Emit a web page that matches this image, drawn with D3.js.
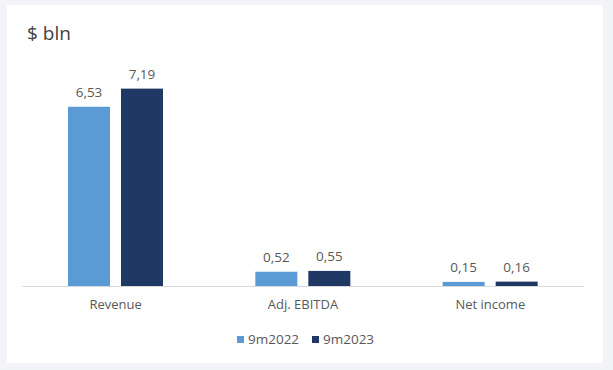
<!DOCTYPE html>
<html>
<head>
<meta charset="utf-8">
<script src="https://cdn.jsdelivr.net/npm/d3@7"></script>
<style>
  html, body { margin: 0; padding: 0; background: #f3f4f7; }
  svg { display: block; font-family: "Open Sans", sans-serif; }
</style>
</head>
<body>
<div class="chart"></div>
<script>
// Data
var categories = ["Revenue", "Adj. EBITDA", "Net income"];
var seriesNames = ["9m2022", "9m2023"];
var values2022 = [6.53, 0.52, 0.15];
var values2023 = [7.19, 0.55, 0.16];
var colors = ["#5b9bd5", "#1f3864"];

var svgWidth = 613;
var svgHeight = 370;

var svg = d3.select(".chart")
            .append("svg")
            .attr("width", svgWidth)
            .attr("height", svgHeight);

// white card
svg.append("rect")
   .attr("x", 7)
   .attr("y", 5)
   .attr("width", 596)
   .attr("height", 358)
   .attr("fill", "#ffffff");

// title
svg.append("text")
   .attr("x", 27)
   .attr("y", 40)
   .attr("fill", "#404040")
   .style("font-size", "19px")
   .text("$ bln");

var baseY = 286;

var x0 = d3.scaleBand()
           .domain(categories)
           .range([22, 584]);

var x1 = d3.scaleBand()
           .domain(seriesNames)
           .range([46, 141])
           .paddingInner(0.2075);

var y = d3.scaleLinear()
          .domain([0, 8])
          .range([baseY, baseY - 8 * 27.45]);

// build rows from the arrays
var rows = categories.map(function(c, i) {
    return {
        category: c,
        values: [
            { series: seriesNames[0], value: values2022[i] },
            { series: seriesNames[1], value: values2023[i] }
        ]
    };
});

var groups = svg.selectAll(".group")
                .data(rows)
                .enter()
                .append("g")
                .attr("class", "group")
                .attr("transform", d => `translate(${x0(d.category)}, 0)`);

groups.selectAll("rect")
      .data(d => d.values)
      .enter()
      .append("rect")
      .attr("x", d => x1(d.series))
      .attr("y", d => y(d.value))
      .attr("width", x1.bandwidth())
      .attr("height", d => y(0) - y(d.value))
      .attr("fill", (d, i) => colors[i]);

groups.selectAll(".val")
      .data(d => d.values)
      .enter()
      .append("text")
      .attr("class", "val")
      .attr("x", d => x1(d.series) + x1.bandwidth() / 2)
      .attr("y", d => y(d.value) - 10)
      .attr("text-anchor", "middle")
      .attr("fill", "#595959")
      .style("font-size", "13.5px")
      .text(d => d.value.toFixed(2).replace(".", ","));

// category axis
var bottomAxis = d3.axisBottom(x0).tickSize(0).tickPadding(14);
var axisG = svg.append("g")
               .attr("transform", `translate(0, ${baseY})`)
               .call(bottomAxis);
axisG.select(".domain").attr("stroke", "#d9d9d9").attr("stroke-width", 1.2);
axisG.selectAll("text")
     .attr("fill", "#595959")
     .style("font-size", "13px")
     .style("font-family", "Open Sans, sans-serif");

// legend
var legendX = [237, 312];
var legend = svg.selectAll(".legend")
                .data(seriesNames)
                .enter()
                .append("g")
                .attr("class", "legend")
                .attr("transform", (d, i) => `translate(${legendX[i]}, 336)`);

legend.append("rect")
      .attr("width", 7)
      .attr("height", 7)
      .attr("fill", (d, i) => colors[i]);

legend.append("text")
      .attr("x", 11)
      .attr("y", 7.5)
      .attr("fill", "#595959")
      .style("font-size", "13.5px")
      .text(d => d);
</script>
</body>
</html>
